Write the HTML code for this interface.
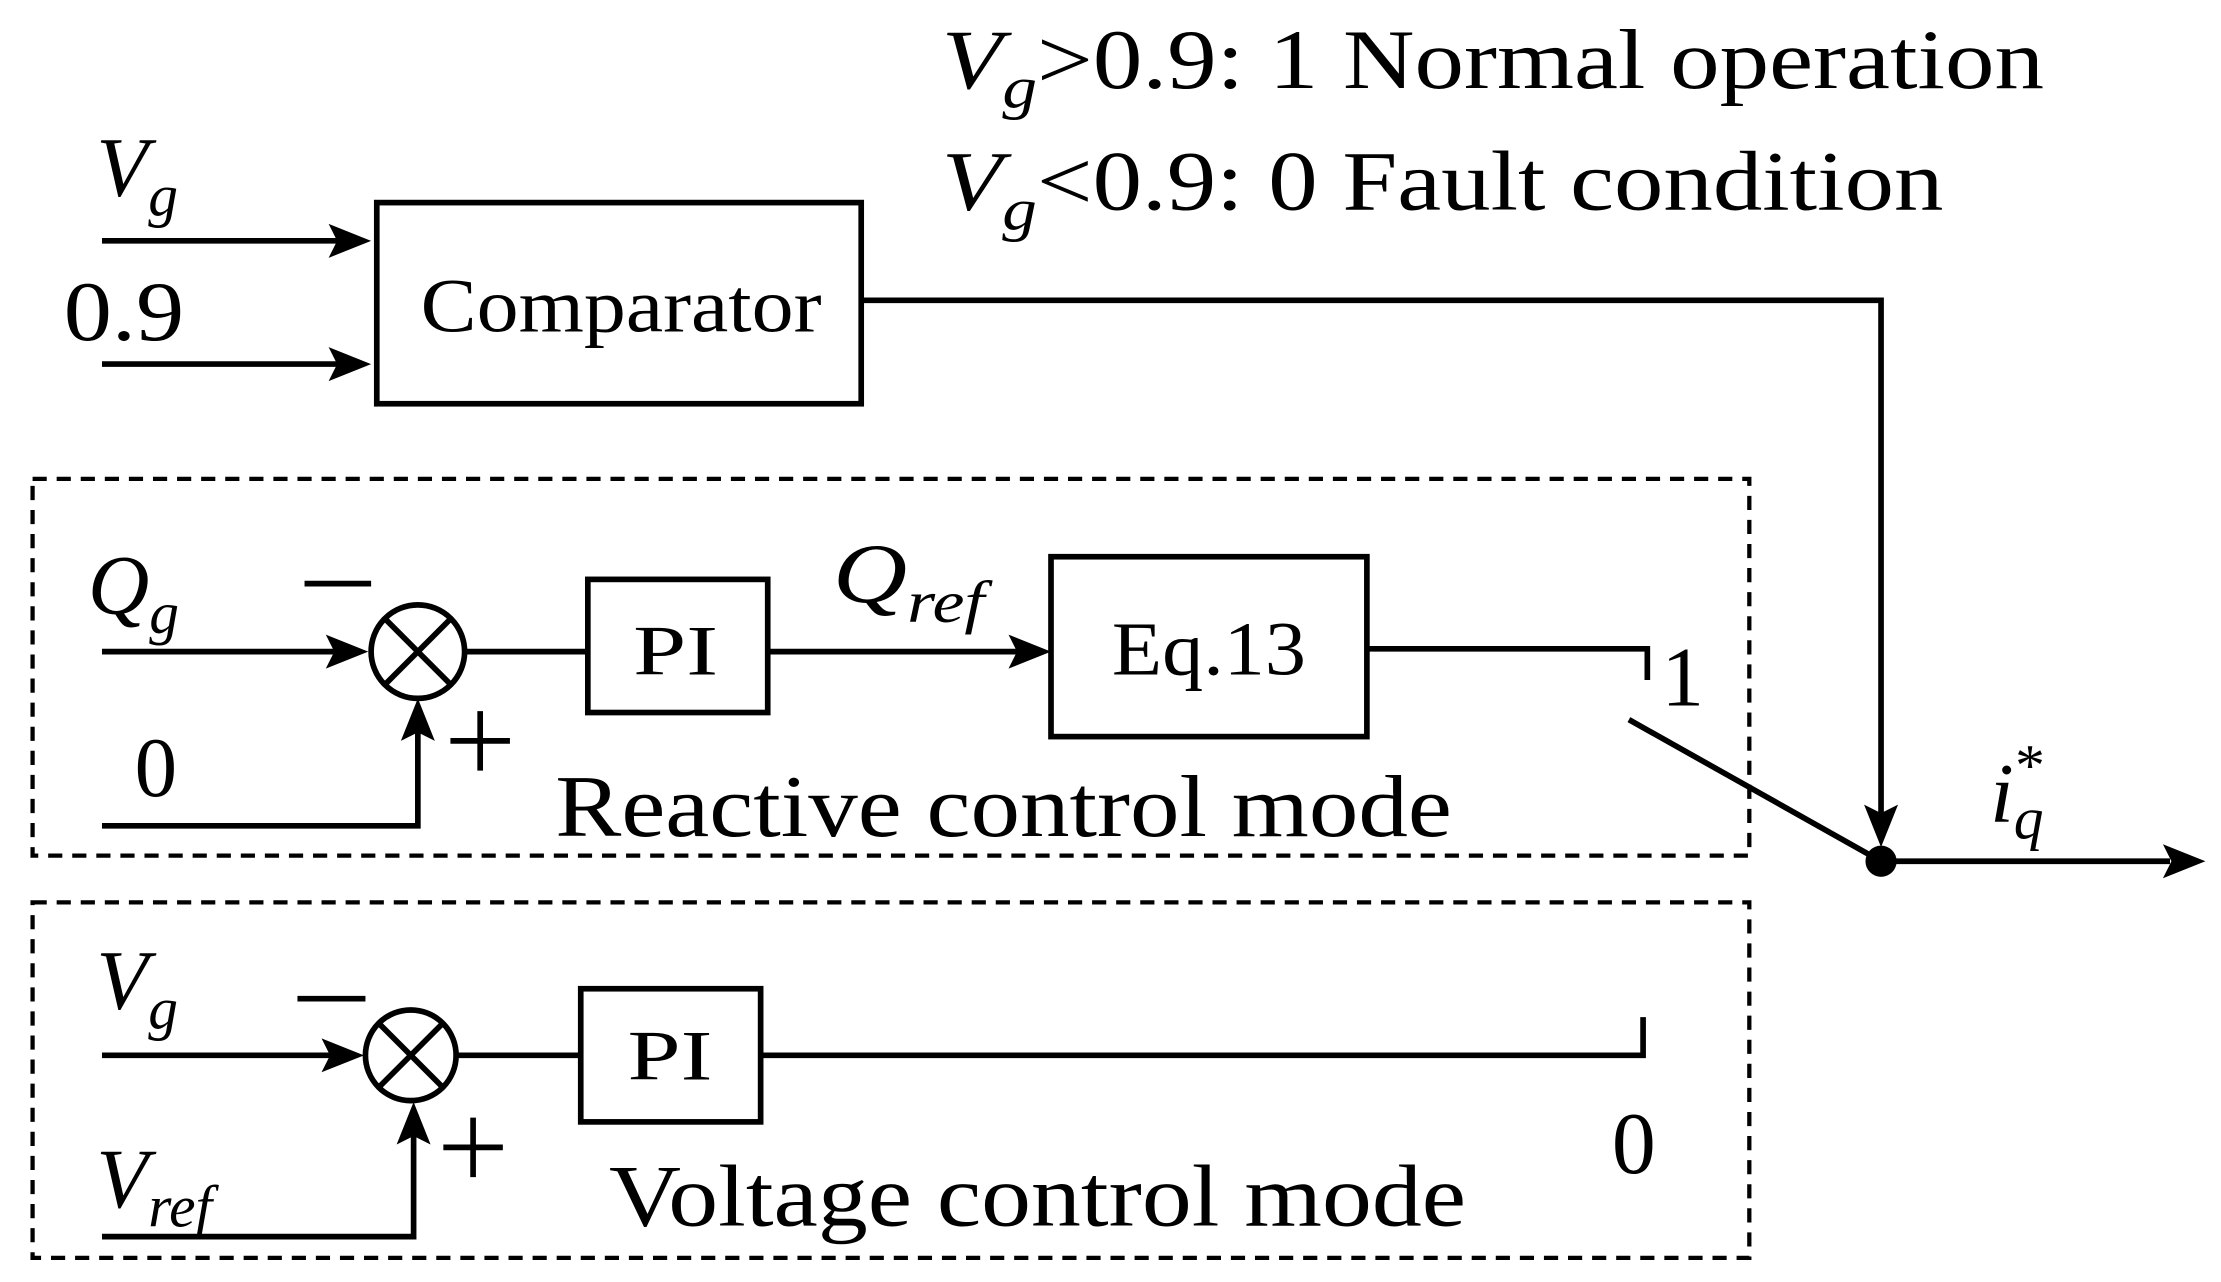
<!DOCTYPE html>
<html><head><meta charset="utf-8"><style>
html,body{margin:0;padding:0;background:#fff;}
svg{display:block;}
text{font-family:"Liberation Serif",serif;fill:#000;}
</style></head><body>
<svg width="2221" height="1282" viewBox="0 0 1568 905" xmlns="http://www.w3.org/2000/svg">
<g stroke="#000" stroke-width="4" fill="none">
<line x1="72" y1="170" x2="240" y2="170"/>
<line x1="72" y1="257" x2="240" y2="257"/>
<rect x="266" y="143" width="342" height="142"/>
<polyline points="608,212 1328,212 1328,575"/>
<rect x="23" y="338" width="1212" height="266" stroke-dasharray="10,7" stroke-width="3"/>
<rect x="23" y="637" width="1212" height="251" stroke-dasharray="10,7" stroke-width="3"/>
<line x1="72" y1="460" x2="238" y2="460"/>
<circle cx="295" cy="460" r="33"/>
<line x1="272" y1="437" x2="318" y2="483"/>
<line x1="318" y1="437" x2="272" y2="483"/>
<polyline points="72,583 295,583 295,515"/>
<line x1="328" y1="460" x2="415" y2="460"/>
<rect x="415" y="409" width="127" height="94"/>
<line x1="542" y1="460" x2="720" y2="460"/>
<rect x="742" y="393" width="223" height="127"/>
<polyline points="965,458 1163,458 1163,480"/>
<line x1="1150" y1="508" x2="1328" y2="608"/>
<line x1="1328" y1="608" x2="1532" y2="608"/>
<line x1="72" y1="745" x2="235" y2="745"/>
<circle cx="290" cy="745" r="32"/>
<line x1="267" y1="722" x2="313" y2="768"/>
<line x1="313" y1="722" x2="267" y2="768"/>
<polyline points="72,873 292,873 292,800"/>
<line x1="322" y1="745" x2="410" y2="745"/>
<rect x="410" y="698" width="127" height="94"/>
<polyline points="537,745 1160,745 1160,718"/>
<line x1="215" y1="412" x2="262" y2="412"/>
<line x1="318" y1="523" x2="360" y2="523"/><line x1="339" y1="502" x2="339" y2="544"/>
<line x1="210" y1="705" x2="258" y2="705"/>
<line x1="313" y1="810" x2="355" y2="810"/><line x1="334" y1="789" x2="334" y2="831"/>
</g>
<g fill="#000">
<polygon points="262,170 232,158 238,170 232,182"/>
<polygon points="262,257 232,245 238,257 232,269"/>
<polygon points="1328,598 1316,568 1328,574 1340,568"/>
<polygon points="260,460 230,448 236,460 230,472"/>
<polygon points="295,493 283,523 295,517 307,523"/>
<polygon points="742,460 712,448 718,460 712,472"/>
<polygon points="1557,608 1527,596 1533,608 1527,620"/>
<polygon points="257,745 227,733 233,745 227,757"/>
<polygon points="292,778 280,808 292,802 304,808"/>
<circle cx="1328" cy="608" r="11"/>
</g>
<text x="665" y="62" font-size="60" textLength="778" lengthAdjust="spacingAndGlyphs"><tspan font-style="italic">V</tspan><tspan font-style="italic" font-size="42" dy="14">g</tspan><tspan dy="-14">&gt;0.9: 1 Normal operation</tspan></text>
<text x="665" y="148" font-size="60" textLength="707" lengthAdjust="spacingAndGlyphs"><tspan font-style="italic">V</tspan><tspan font-style="italic" font-size="42" dy="14">g</tspan><tspan dy="-14">&lt;0.9: 0 Fault condition</tspan></text>
<text x="68" y="138" font-size="60"><tspan font-style="italic">V</tspan><tspan font-style="italic" font-size="42" dy="14">g</tspan></text>
<text x="45" y="240" font-size="60" textLength="85" lengthAdjust="spacingAndGlyphs">0.9</text>
<text x="297" y="234" font-size="54" textLength="283" lengthAdjust="spacingAndGlyphs">Comparator</text>
<text x="62" y="433" font-size="60"><tspan font-style="italic">Q</tspan><tspan font-style="italic" font-size="42" dy="14">g</tspan></text>
<text x="95" y="562" font-size="60">0</text>
<text x="447" y="476" font-size="50" textLength="60" lengthAdjust="spacingAndGlyphs">PI</text>
<text x="588" y="425" font-size="60" textLength="107" lengthAdjust="spacingAndGlyphs"><tspan font-style="italic">Q</tspan><tspan font-style="italic" font-size="42" dy="14">ref</tspan></text>
<text x="785" y="476" font-size="54" textLength="137" lengthAdjust="spacingAndGlyphs">Eq.13</text>
<text x="1173" y="498" font-size="60">1</text>
<text x="1405" y="580" font-size="60"><tspan font-style="italic">i</tspan><tspan font-style="italic" font-size="42" dy="12">q</tspan><tspan font-size="42" dx="-20" dy="-38">*</tspan></text>
<text x="392" y="590" font-size="62" textLength="633" lengthAdjust="spacingAndGlyphs">Reactive control mode</text>
<text x="68" y="712" font-size="60"><tspan font-style="italic">V</tspan><tspan font-style="italic" font-size="42" dy="14">g</tspan></text>
<text x="443" y="762" font-size="50" textLength="60" lengthAdjust="spacingAndGlyphs">PI</text>
<text x="1138" y="828" font-size="62">0</text>
<text x="68" y="852" font-size="60"><tspan font-style="italic">V</tspan><tspan font-style="italic" font-size="42" dy="14">ref</tspan></text>
<text x="430" y="865" font-size="62" textLength="605" lengthAdjust="spacingAndGlyphs">Voltage control mode</text>
</svg>
</body></html>
